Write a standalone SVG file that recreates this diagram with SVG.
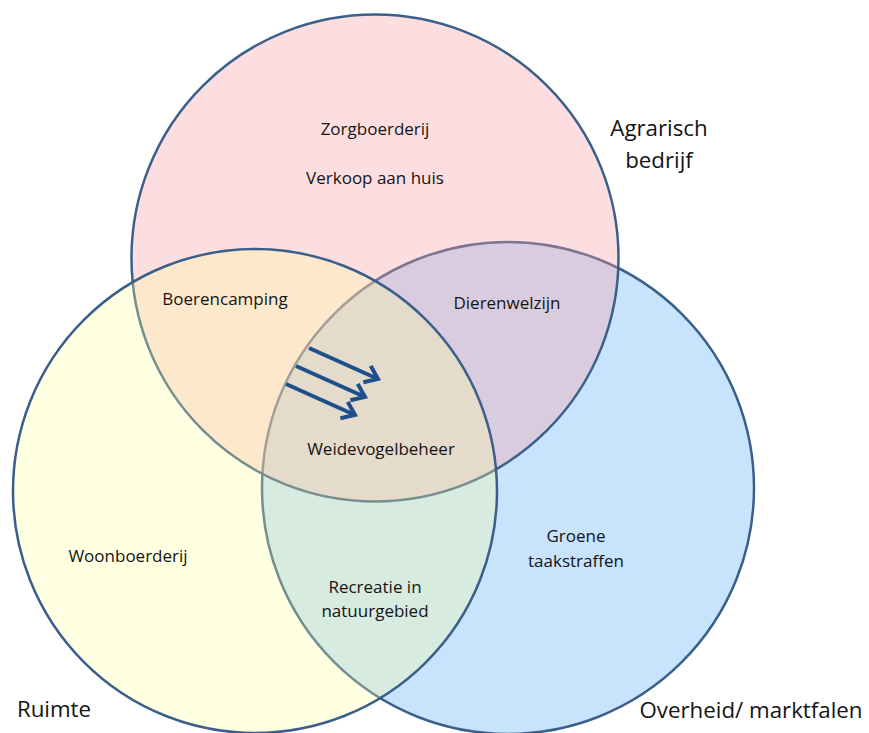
<svg xmlns="http://www.w3.org/2000/svg" width="869" height="733" viewBox="0 0 869 733">
<style>
.c{stroke:#3A5F8B;stroke-width:2.5}
.t{font-family:"Open Sans","Liberation Sans",sans-serif;font-size:17px;fill:#141414;text-anchor:middle}
.b{font-family:"Open Sans","Liberation Sans",sans-serif;font-size:22.3px;fill:#141414;text-anchor:middle}
.a{stroke:#1F4E8C;stroke-width:4;fill:none;stroke-linecap:butt}
</style>
<defs>
<marker id="ah" markerUnits="userSpaceOnUse" markerWidth="24" markerHeight="24" refX="20" refY="12" orient="auto" viewBox="0 0 24 24">
<polyline points="8,3 20,12 8,21" fill="none" stroke="#1F4E8C" stroke-width="4" stroke-linejoin="miter"/>
</marker>
</defs>
<rect width="869" height="733" fill="#ffffff"/>
<g id="overheid">
<circle class="c" cx="508" cy="488" r="246" fill="#91C7F9" fill-opacity="0.5"/>
</g>
<g id="agrarisch">
<circle class="c" cx="375" cy="258" r="243.5" fill="#FAA0A5" fill-opacity="0.35"/>
</g>
<g id="ruimte">
<circle class="c" cx="255" cy="491" r="242" fill="#FFFFA0" fill-opacity="0.3"/>
</g>
<g id="connectors">
<line class="a" x1="309" y1="348" x2="378" y2="379" marker-end="url(#ah)"/>
<line class="a" x1="296" y1="366" x2="365" y2="397" marker-end="url(#ah)"/>
<line class="a" x1="286" y1="384" x2="355" y2="415" marker-end="url(#ah)"/>
</g>
<g id="labels">
<text class="t" x="375" y="135">Zorgboerderij</text>
<text class="t" x="375" y="184">Verkoop aan huis</text>
<text class="b" x="659" y="136">Agrarisch</text>
<text class="b" x="659" y="168">bedrijf</text>
<text class="t" x="225" y="305">Boerencamping</text>
<text class="t" x="507" y="309">Dierenwelzijn</text>
<text class="t" x="381" y="455">Weidevogelbeheer</text>
<text class="t" x="128" y="562">Woonboerderij</text>
<text class="t" x="576" y="542">Groene</text>
<text class="t" x="576" y="567">taakstraffen</text>
<text class="t" x="375" y="593">Recreatie in</text>
<text class="t" x="375" y="617">natuurgebied</text>
<text class="b" x="54" y="717">Ruimte</text>
<text class="b" x="751" y="718">Overheid/ marktfalen</text>
</g>
</svg>
